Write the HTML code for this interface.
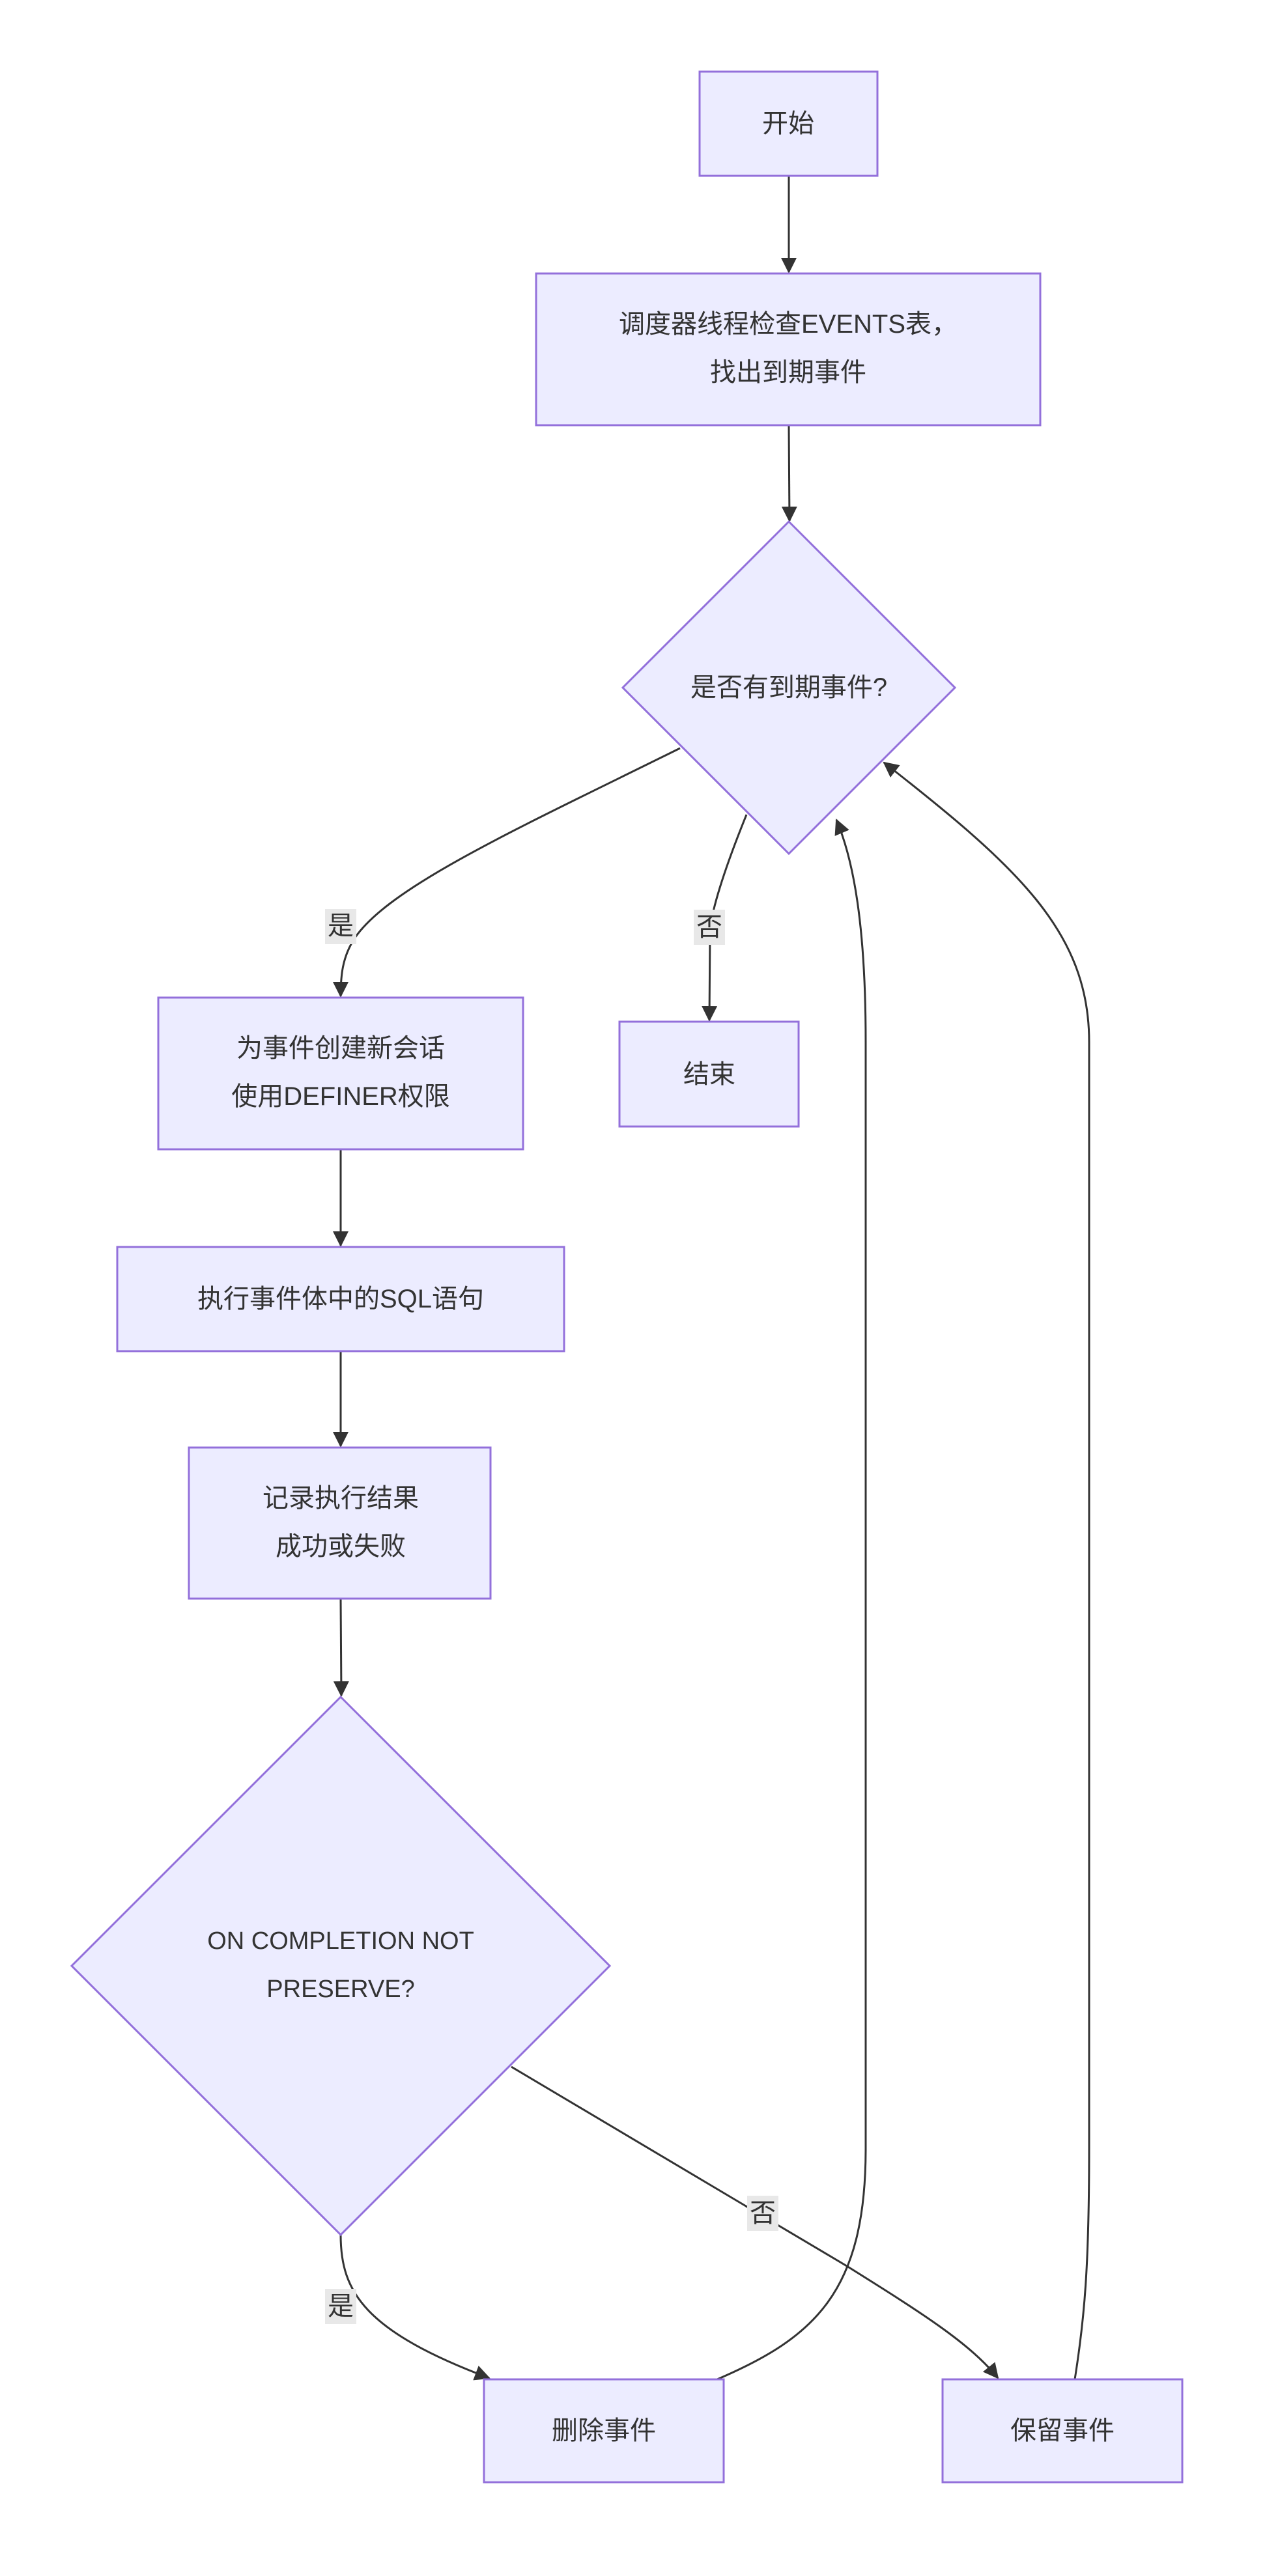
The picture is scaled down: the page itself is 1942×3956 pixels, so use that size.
<!DOCTYPE html>
<html><head><meta charset="utf-8"><style>
html,body{margin:0;padding:0;background:#fff;}
svg{display:block;}
text{font-family:"Liberation Sans","Noto Sans CJK SC",sans-serif;fill:#333;font-size:40px;text-anchor:middle;dominant-baseline:central;}
.n{fill:#ECECFF;stroke:#9370DB;stroke-width:3;}
.e{fill:none;stroke:#333;stroke-width:3;}
.lb{fill:#e8e8e8;}
</style></head><body>
<svg width="1942" height="3956" viewBox="0 0 1942 3956" xmlns="http://www.w3.org/2000/svg">
<defs><marker id="a" viewBox="0 0 10 10" refX="9" refY="5" markerWidth="8" markerHeight="8" markerUnits="userSpaceOnUse" orient="auto" style="overflow:visible"><path d="M0,0L10,5L0,10z" fill="#333" transform="scale(2.4) translate(-5,-5) translate(5,5)"/></marker>
<marker id="m" viewBox="0 0 24 24" refX="22" refY="12" markerWidth="24" markerHeight="24" markerUnits="userSpaceOnUse" orient="auto"><path d="M0,0L24,12L0,24z" fill="#333"/></marker></defs>

<!-- edges -->
<path class="e" d="M1211,270 L1211,418" marker-end="url(#m)"/>
<path class="e" d="M1211,653 L1212,800" marker-end="url(#m)"/>
<path class="e" d="M1044,1149 C800,1270 600,1360 545,1440 C525,1470 523,1500 523,1530" marker-end="url(#m)"/>
<path class="e" d="M1146,1251 C1110,1340 1092,1400 1090,1430 L1089,1567" marker-end="url(#m)"/>
<path class="e" d="M523,1765 L523,1913" marker-end="url(#m)"/>
<path class="e" d="M523,2075 L523,2221" marker-end="url(#m)"/>
<path class="e" d="M523,2455 L524,2604" marker-end="url(#m)"/>
<path class="e" d="M523,3432 C523,3520 560,3580 751,3652" marker-end="url(#m)"/>
<path class="e" d="M785,3174 C1000,3300 1200,3420 1300,3480 C1420,3555 1490,3600 1532,3652" marker-end="url(#m)"/>
<path class="e" d="M1101,3654 C1250,3590 1329,3520 1329,3300 L1329,1600 C1329,1420 1310,1320 1284,1259" marker-end="url(#m)"/>
<path class="e" d="M1650,3654 C1665,3560 1672,3480 1672,3300 L1672,1600 C1672,1430 1560,1330 1357,1171" marker-end="url(#m)"/>

<!-- nodes -->
<rect class="n" x="1074" y="110" width="273" height="160"/>
<text x="1210" y="190">开始</text>
<rect class="n" x="823" y="420" width="774" height="233"/>
<text x="1210" y="498">调度器线程检查EVENTS表，</text>
<text x="1210" y="572">找出到期事件</text>
<polygon class="n" points="1211,801 1466,1056 1211,1311 956,1056"/>
<text x="1211" y="1056">是否有到期事件?</text>
<rect class="n" x="243" y="1532" width="560" height="233"/>
<text x="523" y="1610">为事件创建新会话</text>
<text x="523" y="1684">使用DEFINER权限</text>
<rect class="n" x="951" y="1569" width="275" height="161"/>
<text x="1089" y="1650">结束</text>
<rect class="n" x="180" y="1915" width="686" height="160"/>
<text x="523" y="1995">执行事件体中的SQL语句</text>
<rect class="n" x="290" y="2223" width="463" height="232"/>
<text x="523" y="2301">记录执行结果</text>
<text x="523" y="2375">成功或失败</text>
<polygon class="n" points="523,2606 936,3019 523,3432 110,3019"/>
<text x="523" y="2981" style="font-size:38px">ON COMPLETION NOT</text>
<text x="523" y="3055" style="font-size:38px">PRESERVE?</text>
<rect class="n" x="743" y="3654" width="368" height="158"/>
<text x="927" y="3733">删除事件</text>
<rect class="n" x="1447" y="3654" width="368" height="158"/>
<text x="1631" y="3733">保留事件</text>

<!-- labels -->
<rect class="lb" x="499" y="1396" width="48" height="54"/><text x="523" y="1422">是</text>
<rect class="lb" x="1065" y="1397" width="48" height="54"/><text x="1089" y="1424">否</text>
<rect class="lb" x="499" y="3515" width="48" height="54"/><text x="523" y="3542">是</text>
<rect class="lb" x="1147" y="3372" width="48" height="54"/><text x="1171" y="3399">否</text>
</svg>
</body></html>
